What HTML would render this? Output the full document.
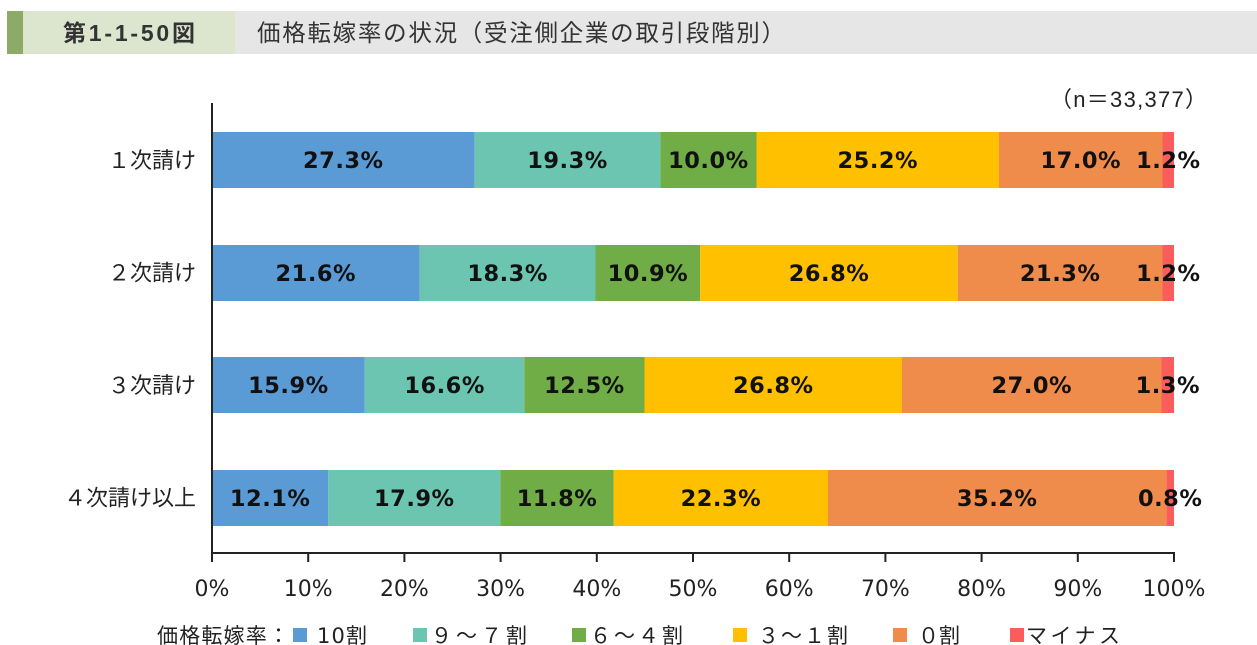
<!DOCTYPE html>
<html>
<head>
<meta charset="utf-8">
<style>
  html,body{margin:0;padding:0;background:#fff;}
  body{width:1257px;height:645px;overflow:hidden;}
  svg{display:block;}
  .cjk{font-family:"Liberation Sans","Noto Sans CJK JP",sans-serif;}
  .lbl{font-family:"DejaVu Sans","Noto Sans CJK JP",sans-serif;font-weight:bold;font-size:22.5px;fill:#111;letter-spacing:0.5px;}
  .tick{font-family:"DejaVu Sans","Noto Sans CJK JP",sans-serif;font-size:22px;fill:#222;}
  .cat{font-family:"Liberation Sans","Noto Sans CJK JP",sans-serif;font-size:22px;fill:#222;}
  .leg{font-family:"DejaVu Sans","Noto Sans CJK JP",sans-serif;font-size:21px;fill:#222;}
</style>
</head>
<body>
<svg width="1257" height="645" viewBox="0 0 1257 645" xmlns="http://www.w3.org/2000/svg">
  <!-- Header -->
  <rect x="235" y="11" width="1022" height="43" fill="#e6e6e6"/>
  <rect x="23" y="11" width="212" height="43" fill="#dce5cd"/>
  <rect x="7" y="11" width="16" height="43" fill="#8cab67"/>
  <text x="63" y="41" class="cjk" font-size="23" font-weight="bold" fill="#333" textLength="132" lengthAdjust="spacing">第1-1-50図</text>
  <text x="257" y="41" class="cjk" font-size="23.5" fill="#333" textLength="528" lengthAdjust="spacing">価格転嫁率の状況（受注側企業の取引段階別）</text>

  <!-- n label -->
  <text x="1050" y="107" class="cjk" font-size="22" fill="#222" textLength="157" lengthAdjust="spacing">（n＝33,377）</text>

  <!-- Row 1 -->
  <g>
    <rect x="212" y="132" width="262.6" height="56" fill="#5b9bd5"/>
    <rect x="474.6" y="132" width="185.7" height="56" fill="#6cc5b1"/>
    <rect x="660.3" y="132" width="96.2" height="56" fill="#70ad47"/>
    <rect x="756.5" y="132" width="242.5" height="56" fill="#ffc000"/>
    <rect x="999" y="132" width="163.5" height="56" fill="#ef8b4b"/>
    <rect x="1162.5" y="132" width="11.5" height="56" fill="#fb5d5d"/>
  </g>
  <!-- Row 2 -->
  <g>
    <rect x="212" y="245" width="207.6" height="56" fill="#5b9bd5"/>
    <rect x="419.6" y="245" width="175.9" height="56" fill="#6cc5b1"/>
    <rect x="595.5" y="245" width="104.7" height="56" fill="#70ad47"/>
    <rect x="700.2" y="245" width="257.6" height="56" fill="#ffc000"/>
    <rect x="957.8" y="245" width="204.7" height="56" fill="#ef8b4b"/>
    <rect x="1162.5" y="245" width="11.5" height="56" fill="#fb5d5d"/>
  </g>
  <!-- Row 3 -->
  <g>
    <rect x="212" y="357" width="152.8" height="56" fill="#5b9bd5"/>
    <rect x="364.8" y="357" width="159.5" height="56" fill="#6cc5b1"/>
    <rect x="524.3" y="357" width="120.2" height="56" fill="#70ad47"/>
    <rect x="644.5" y="357" width="257.5" height="56" fill="#ffc000"/>
    <rect x="902" y="357" width="259.5" height="56" fill="#ef8b4b"/>
    <rect x="1161.5" y="357" width="12.5" height="56" fill="#fb5d5d"/>
  </g>
  <!-- Row 4 -->
  <g>
    <rect x="212" y="470" width="116.3" height="56" fill="#5b9bd5"/>
    <rect x="328.3" y="470" width="172" height="56" fill="#6cc5b1"/>
    <rect x="500.3" y="470" width="113.4" height="56" fill="#70ad47"/>
    <rect x="613.7" y="470" width="214.3" height="56" fill="#ffc000"/>
    <rect x="828" y="470" width="338.3" height="56" fill="#ef8b4b"/>
    <rect x="1166.3" y="470" width="7.7" height="56" fill="#fb5d5d"/>
  </g>

  <!-- Data labels -->
  <g class="lbl" text-anchor="middle">
    <text x="343.3" y="168">27.3%</text>
    <text x="567.5" y="168">19.3%</text>
    <text x="708.4" y="168">10.0%</text>
    <text x="877.8" y="168">25.2%</text>
    <text x="1080.8" y="168">17.0%</text>
    <text x="1168.3" y="168">1.2%</text>

    <text x="315.8" y="281">21.6%</text>
    <text x="507.6" y="281">18.3%</text>
    <text x="647.9" y="281">10.9%</text>
    <text x="829" y="281">26.8%</text>
    <text x="1060.2" y="281">21.3%</text>
    <text x="1168.3" y="281">1.2%</text>

    <text x="288.4" y="393">15.9%</text>
    <text x="444.6" y="393">16.6%</text>
    <text x="584.4" y="393">12.5%</text>
    <text x="773.3" y="393">26.8%</text>
    <text x="1031.8" y="393">27.0%</text>
    <text x="1167.8" y="393">1.3%</text>

    <text x="270.2" y="506">12.1%</text>
    <text x="414.3" y="506">17.9%</text>
    <text x="557" y="506">11.8%</text>
    <text x="720.9" y="506">22.3%</text>
    <text x="997.2" y="506">35.2%</text>
    <text x="1170.2" y="506">0.8%</text>
  </g>

  <!-- Category labels -->
  <g class="cat" text-anchor="end">
    <text x="196" y="168">１次請け</text>
    <text x="196" y="280.5">２次請け</text>
    <text x="196" y="393">３次請け</text>
    <text x="196" y="505.5">４次請け以上</text>
  </g>

  <!-- Axes -->
  <g stroke="#222" stroke-width="2" fill="none">
    <line x1="212" y1="103" x2="212" y2="562"/>
    <line x1="211" y1="553" x2="1175" y2="553"/>
    <line x1="308.2" y1="553" x2="308.2" y2="562"/>
    <line x1="404.4" y1="553" x2="404.4" y2="562"/>
    <line x1="500.6" y1="553" x2="500.6" y2="562"/>
    <line x1="596.8" y1="553" x2="596.8" y2="562"/>
    <line x1="693" y1="553" x2="693" y2="562"/>
    <line x1="789.2" y1="553" x2="789.2" y2="562"/>
    <line x1="885.4" y1="553" x2="885.4" y2="562"/>
    <line x1="981.6" y1="553" x2="981.6" y2="562"/>
    <line x1="1077.8" y1="553" x2="1077.8" y2="562"/>
    <line x1="1174" y1="553" x2="1174" y2="562"/>
  </g>

  <!-- Tick labels -->
  <g class="tick" text-anchor="middle">
    <text x="212" y="596">0%</text>
    <text x="308.2" y="596">10%</text>
    <text x="404.4" y="596">20%</text>
    <text x="500.6" y="596">30%</text>
    <text x="596.8" y="596">40%</text>
    <text x="693" y="596">50%</text>
    <text x="789.2" y="596">60%</text>
    <text x="885.4" y="596">70%</text>
    <text x="981.6" y="596">80%</text>
    <text x="1077.8" y="596">90%</text>
    <text x="1174" y="596">100%</text>
  </g>

  <!-- Legend -->
  <g class="leg">
    <text x="157" y="643" textLength="132" lengthAdjust="spacing">価格転嫁率：</text>
    <rect x="293" y="628" width="14" height="14" fill="#5b9bd5"/>
    <text x="317" y="643" textLength="50" lengthAdjust="spacing">10割</text>
    <rect x="413" y="628" width="14" height="14" fill="#6cc5b1"/>
    <text x="431" y="643" textLength="96" lengthAdjust="spacing">９～７割</text>
    <rect x="572" y="628" width="14" height="14" fill="#70ad47"/>
    <text x="590" y="643" textLength="93" lengthAdjust="spacing">６～４割</text>
    <rect x="733" y="628" width="14" height="14" fill="#ffc000"/>
    <text x="758" y="643" textLength="90" lengthAdjust="spacing">３～１割</text>
    <rect x="893" y="628" width="14" height="14" fill="#ef8b4b"/>
    <text x="918" y="643" textLength="42" lengthAdjust="spacing">０割</text>
    <rect x="1010" y="628" width="14" height="14" fill="#fb5d5d"/>
    <text x="1026" y="643" textLength="94" lengthAdjust="spacing">マイナス</text>
  </g>
</svg>
</body>
</html>
